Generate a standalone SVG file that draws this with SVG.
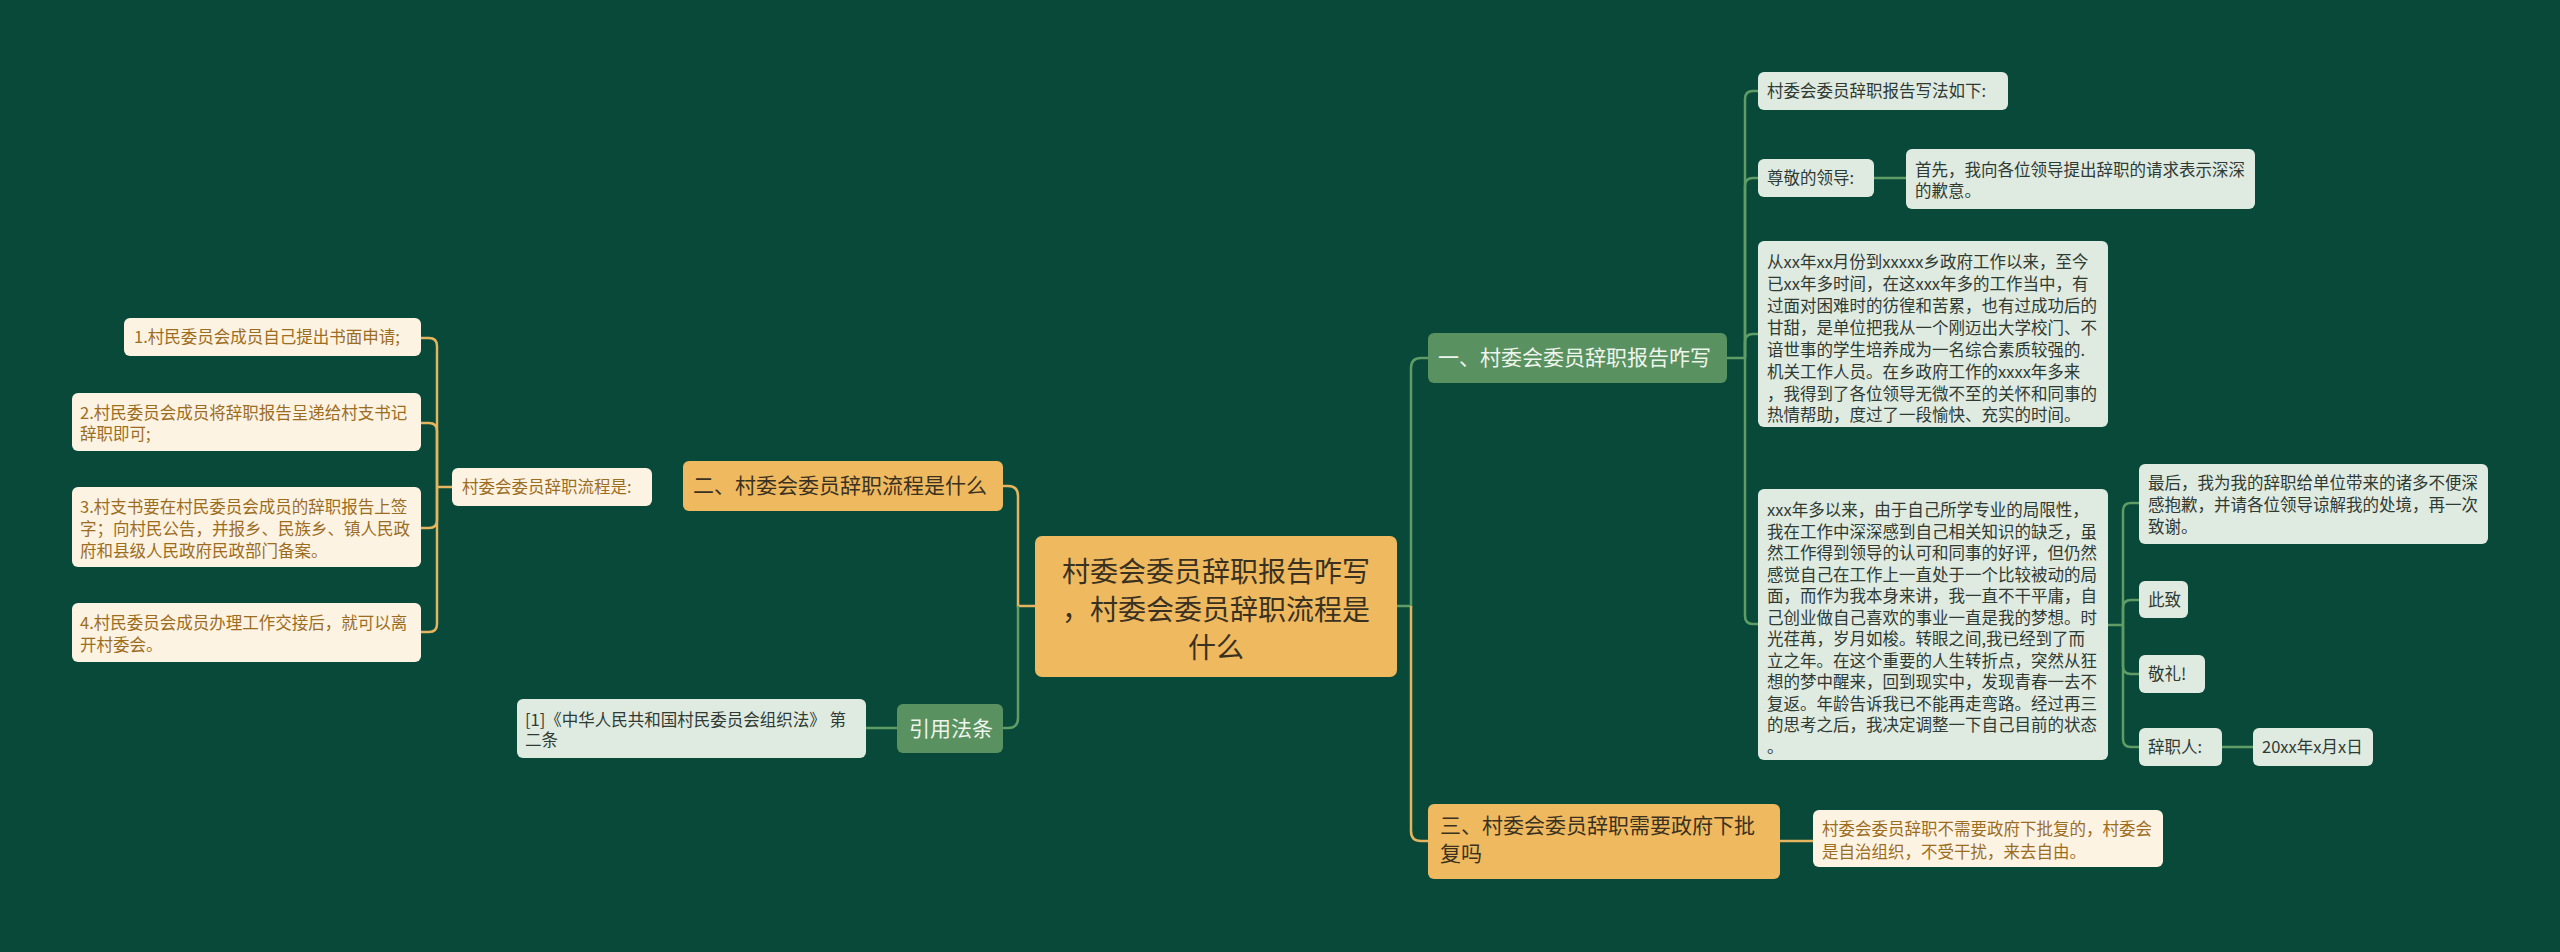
<svg xmlns="http://www.w3.org/2000/svg" width="2560" height="952" viewBox="0 0 2560 952">
<style>
text{font-family:"Noto Sans CJK SC","Liberation Sans",sans-serif}
.gl{fill:none;stroke:#e4b45e;stroke-width:2.5}
.gr{fill:none;stroke:#5f9c66;stroke-width:2.5}
.root{fill:#efb960}
.gold{fill:#efb960}
.green{fill:#5a9160}
.mint{fill:#dfeae1}
.cream{fill:#fdf3e3}
.tr{font-size:28px;fill:#3a3120}
.tg{font-size:21px;fill:#3a3120}
.tw{font-size:21px;fill:#eef5ec}
.tm{font-size:16.5px;fill:#2f3a33}
.tc{font-size:16.5px;fill:#9c6d1f}
</style>
<rect width="2560" height="952" fill="#08493a"/>
<g id="connectors">
<path class="gl" d="M1035 606 H1018 V496 Q1018 486 1008 486 H1003"/>
<path class="gr" d="M1018 606 V718 Q1018 728 1008 728 H1003"/>
<path class="gr" d="M897 728 H866"/>
<path class="gl" d="M452 487 H437"/>
<path class="gl" d="M437 487 V346 Q437 338 429 338 H421"/>
<path class="gl" d="M437 487 V431 Q437 423 429 423 H421"/>
<path class="gl" d="M437 487 V520 Q437 528 429 528 H421"/>
<path class="gl" d="M437 487 V624 Q437 632 429 632 H421"/>
<path class="gr" d="M1397 606 H1411 V368 Q1411 358 1421 358 H1428"/>
<path class="gl" d="M1411 606 V831 Q1411 841 1421 841 H1428"/>
<path class="gl" d="M1780 841 H1813"/>
<path class="gr" d="M1727 358 H1745"/>
<path class="gr" d="M1745 358 V99 Q1745 91 1753 91 H1758"/>
<path class="gr" d="M1745 358 V186 Q1745 178 1753 178 H1758"/>
<path class="gr" d="M1745 358 V342 Q1745 334 1753 334 H1758"/>
<path class="gr" d="M1745 358 V616 Q1745 624 1753 624 H1758"/>
<path class="gr" d="M1874 178 H1906"/>
<path class="gr" d="M2108 625 H2123"/>
<path class="gr" d="M2123 625 V511 Q2123 503 2131 503 H2139"/>
<path class="gr" d="M2123 625 V608 Q2123 600 2131 600 H2139"/>
<path class="gr" d="M2123 625 V666 Q2123 674 2131 674 H2139"/>
<path class="gr" d="M2123 625 V739 Q2123 747 2131 747 H2139"/>
<path class="gr" d="M2222 747 H2253"/>
</g>
<g id="root">
<rect class="root" x="1035" y="536" width="362" height="141" rx="7"/>
<text class="tr" text-anchor="middle"><tspan x="1216" y="582">村委会委员辞职报告咋写</tspan><tspan x="1216" y="620">，村委会委员辞职流程是</tspan><tspan x="1216" y="658">什么</tspan></text>
</g>
<g id="n1">
<rect class="green" x="1428" y="333" width="299" height="50" rx="6"/>
<text class="tw" x="1438" y="365">一、村委会委员辞职报告咋写</text>
</g>
<g id="n2">
<rect class="gold" x="683" y="461" width="320" height="50" rx="6"/>
<text class="tg" x="693" y="493">二、村委会委员辞职流程是什么</text>
</g>
<g id="n3">
<rect class="gold" x="1428" y="804" width="352" height="75" rx="6"/>
<text class="tg"><tspan x="1440" y="833">三、村委会委员辞职需要政府下批</tspan><tspan x="1440" y="861">复吗</tspan></text>
</g>
<g id="n4">
<rect class="green" x="897" y="704" width="106" height="49" rx="6"/>
<text class="tw" x="909" y="736">引用法条</text>
</g>
<g id="n2a">
<rect class="cream" x="452" y="468" width="200" height="38" rx="6"/>
<text class="tc" x="462" y="493">村委会委员辞职流程是:</text>
</g>
<g id="n2a1">
<rect class="cream" x="124" y="318" width="297" height="38" rx="6"/>
<text class="tc" x="134" y="343">1.村民委员会成员自己提出书面申请;</text>
</g>
<g id="n2a2">
<rect class="cream" x="72" y="393" width="349" height="58" rx="6"/>
<text class="tc"><tspan x="80" y="419">2.村民委员会成员将辞职报告呈递给村支书记</tspan><tspan x="80" y="440">辞职即可;</tspan></text>
</g>
<g id="n2a3">
<rect class="cream" x="72" y="487" width="349" height="80" rx="6"/>
<text class="tc"><tspan x="80" y="513">3.村支书要在村民委员会成员的辞职报告上签</tspan><tspan x="80" y="535">字；向村民公告，并报乡、民族乡、镇人民政</tspan><tspan x="80" y="557">府和县级人民政府民政部门备案。</tspan></text>
</g>
<g id="n2a4">
<rect class="cream" x="72" y="603" width="349" height="59" rx="6"/>
<text class="tc"><tspan x="80" y="629">4.村民委员会成员办理工作交接后，就可以离</tspan><tspan x="80" y="651">开村委会。</tspan></text>
</g>
<g id="n4a">
<rect class="mint" x="517" y="699" width="349" height="59" rx="6"/>
<text class="tm"><tspan x="525" y="726">[1]《中华人民共和国村民委员会组织法》 第</tspan><tspan x="525" y="746">二条</tspan></text>
</g>
<g id="n1a">
<rect class="mint" x="1758" y="72" width="250" height="38" rx="6"/>
<text class="tm" x="1767" y="97">村委会委员辞职报告写法如下:</text>
</g>
<g id="n1b">
<rect class="mint" x="1758" y="159" width="116" height="38" rx="6"/>
<text class="tm" x="1767" y="184">尊敬的领导:</text>
</g>
<g id="n1b1">
<rect class="mint" x="1906" y="149" width="349" height="60" rx="6"/>
<text class="tm"><tspan x="1915" y="176">首先，我向各位领导提出辞职的请求表示深深</tspan><tspan x="1915" y="197">的歉意。</tspan></text>
</g>
<g id="n1c">
<rect class="mint" x="1758" y="241" width="350" height="186" rx="6"/>
<text class="tm"><tspan x="1767" y="268">从xx年xx月份到xxxxx乡政府工作以来，至今</tspan><tspan x="1767" y="290">已xx年多时间，在这xxx年多的工作当中，有</tspan><tspan x="1767" y="312">过面对困难时的彷徨和苦累，也有过成功后的</tspan><tspan x="1767" y="334">甘甜，是单位把我从一个刚迈出大学校门、不</tspan><tspan x="1767" y="356">谙世事的学生培养成为一名综合素质较强的.</tspan><tspan x="1767" y="378">机关工作人员。在乡政府工作的xxxx年多来</tspan><tspan x="1767" y="400">，我得到了各位领导无微不至的关怀和同事的</tspan><tspan x="1767" y="421">热情帮助，度过了一段愉快、充实的时间。</tspan></text>
</g>
<g id="n1d">
<rect class="mint" x="1758" y="489" width="350" height="271" rx="6"/>
<text class="tm"><tspan x="1767" y="516">xxx年多以来，由于自己所学专业的局限性，</tspan><tspan x="1767" y="537.5">我在工作中深深感到自己相关知识的缺乏，虽</tspan><tspan x="1767" y="559">然工作得到领导的认可和同事的好评，但仍然</tspan><tspan x="1767" y="580.5">感觉自己在工作上一直处于一个比较被动的局</tspan><tspan x="1767" y="602">面，而作为我本身来讲，我一直不干平庸，自</tspan><tspan x="1767" y="623.5">己创业做自己喜欢的事业一直是我的梦想。时</tspan><tspan x="1767" y="645">光荏苒，岁月如梭。转眼之间,我已经到了而</tspan><tspan x="1767" y="666.5">立之年。在这个重要的人生转折点，突然从狂</tspan><tspan x="1767" y="688">想的梦中醒来，回到现实中，发现青春一去不</tspan><tspan x="1767" y="709.5">复返。年龄告诉我已不能再走弯路。经过再三</tspan><tspan x="1767" y="731">的思考之后，我决定调整一下自己目前的状态</tspan><tspan x="1767" y="752.5">。</tspan></text>
</g>
<g id="n1d1">
<rect class="mint" x="2139" y="464" width="349" height="80" rx="6"/>
<text class="tm"><tspan x="2148" y="489">最后，我为我的辞职给单位带来的诸多不便深</tspan><tspan x="2148" y="511">感抱歉，并请各位领导谅解我的处境，再一次</tspan><tspan x="2148" y="533">致谢。</tspan></text>
</g>
<g id="n1d2">
<rect class="mint" x="2139" y="581" width="49" height="37" rx="6"/>
<text class="tm" x="2148" y="606">此致</text>
</g>
<g id="n1d3">
<rect class="mint" x="2139" y="655" width="66" height="38" rx="6"/>
<text class="tm" x="2148" y="680">敬礼!</text>
</g>
<g id="n1d4">
<rect class="mint" x="2139" y="728" width="83" height="38" rx="6"/>
<text class="tm" x="2148" y="753">辞职人:</text>
</g>
<g id="n1d4a">
<rect class="mint" x="2253" y="728" width="120" height="38" rx="6"/>
<text class="tm" x="2262" y="753">20xx年x月x日</text>
</g>
<g id="n3a">
<rect class="cream" x="1813" y="810" width="350" height="57" rx="6"/>
<text class="tc"><tspan x="1822" y="835">村委会委员辞职不需要政府下批复的，村委会</tspan><tspan x="1822" y="858">是自治组织，不受干扰，来去自由。</tspan></text>
</g>
</svg>
